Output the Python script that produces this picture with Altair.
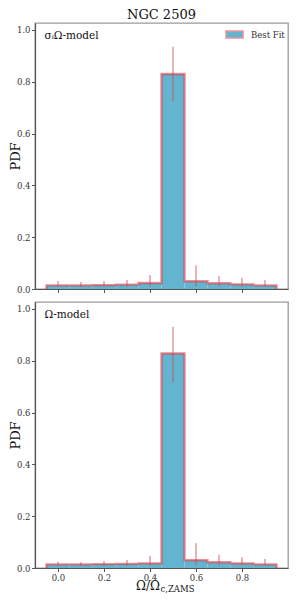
import altair as alt
import pandas as pd

# ---------------- data ----------------
bin_centers = [0.0, 0.1, 0.2, 0.3, 0.4, 0.5, 0.6, 0.7, 0.8, 0.9]
bin_width = 0.1

pdf_sigma = [0.014, 0.014, 0.015, 0.017, 0.023, 0.830, 0.030, 0.022, 0.018, 0.014]
err_lo_sigma = [0.009, 0.009, 0.009, 0.009, 0.009, 0.724, 0.010, 0.010, 0.010, 0.010]
err_hi_sigma = [0.031, 0.027, 0.030, 0.035, 0.054, 0.935, 0.091, 0.050, 0.043, 0.035]

pdf_omega = [0.014, 0.014, 0.015, 0.016, 0.018, 0.828, 0.030, 0.022, 0.018, 0.014]
err_lo_omega = [0.009, 0.009, 0.009, 0.009, 0.009, 0.718, 0.010, 0.010, 0.010, 0.010]
err_hi_omega = [0.024, 0.023, 0.027, 0.031, 0.047, 0.931, 0.096, 0.051, 0.041, 0.035]

x_ticks = [0.0, 0.2, 0.4, 0.6, 0.8]
y_ticks = [0.0, 0.2, 0.4, 0.6, 0.8, 1.0]
x_domain = [-0.1, 1.0]
y_domain = [0.0, 1.027]

title_text = "NGC 2509"
panel_labels = ["σᵢΩ-model", "Ω-model"]
legend_label = "Best Fit"
y_title = "PDF"
x_title_main = "Ω/Ω"
x_title_sub = "c,ZAMS"

# ---------------- style ----------------
FILL = "#63b4cf"
EDGE = "#e0303a"
ERR = "#c94f58"
SERIF = "DejaVu Serif"
W, H = 253, 266


def panel(pdf, lo, hi, label, first):
    bars = pd.DataFrame({
        "x0": [c - bin_width / 2 for c in bin_centers],
        "x1": [c + bin_width / 2 for c in bin_centers],
        "pdf": pdf,
        "base": [0.0] * len(pdf),
        "series": [legend_label] * len(pdf),
    })
    errs = pd.DataFrame({"x": bin_centers, "lo": lo, "hi": hi})
    sx, sy = [bin_centers[0] - bin_width / 2], [0.0]
    for c, p in zip(bin_centers, pdf):
        sx += [c - bin_width / 2, c + bin_width / 2]
        sy += [p, p]
    sx.append(bin_centers[-1] + bin_width / 2)
    sy.append(0.0)
    step = pd.DataFrame({"x": sx, "y": sy, "o": list(range(len(sx)))})

    xs = alt.Scale(domain=x_domain, nice=False, zero=False)
    ys = alt.Scale(domain=y_domain, nice=False)
    xaxis = alt.Axis(values=x_ticks, format=".1f", labels=not first, title=None)
    yaxis = alt.Axis(values=y_ticks, format=".1f", title=y_title,
                     titleX=-16, titleBaseline="alphabetic")

    if first:
        fill = alt.Fill("series:N", scale=alt.Scale(range=[FILL]),
                        legend=alt.Legend(orient="none", legendX=190, legendY=2,
                                          title=None,
                                          symbolType="M-1,-0.4H1V0.4H-1Z",
                                          symbolSize=289,
                                          symbolStrokeColor="#e8939a",
                                          symbolStrokeWidth=1.5,
                                          labelFont=SERIF, labelFontSize=8.5,
                                          labelColor="#333", labelOffset=7,
                                          padding=0))
    else:
        fill = alt.value(FILL)

    b = alt.Chart(bars).mark_bar(stroke=None, opacity=1).encode(
        x=alt.X("x0:Q", scale=xs, axis=xaxis),
        x2="x1:Q",
        y=alt.Y("pdf:Q", scale=ys, axis=yaxis),
        y2="base:Q",
        fill=fill,
    )
    s = alt.Chart(step).mark_line(color=EDGE, strokeWidth=2.4, opacity=0.55).encode(
        x="x:Q", y="y:Q", order="o:Q")
    e = alt.Chart(errs).mark_rule(color=ERR, strokeWidth=1, opacity=0.85).encode(
        x="x:Q", y="lo:Q", y2="hi:Q")
    t = alt.Chart(pd.DataFrame({"label": [label]})).mark_text(
        align="left", baseline="alphabetic", font=SERIF, fontSize=10.5, color="#111"
    ).encode(x=alt.value(9.5), y=alt.value(16), text="label:N")
    layers = [b, s, e, t]
    if not first:
        xt = pd.DataFrame({"main": [x_title_main], "sub": [x_title_sub]})
        layers.append(alt.Chart(xt).mark_text(
            align="right", baseline="alphabetic", font=SERIF, fontSize=12, color="#111"
        ).encode(x=alt.value(125), y=alt.value(288), text="main:N"))
        layers.append(alt.Chart(xt).mark_text(
            align="left", baseline="alphabetic", font=SERIF, fontSize=8.5, color="#111"
        ).encode(x=alt.value(125.5), y=alt.value(290), text="sub:N"))
    ch = alt.layer(*layers).properties(width=W, height=H)
    if first:
        ch = ch.properties(title=alt.TitleParams(title_text, font=SERIF, fontSize=13,
                                                 fontWeight="normal", anchor="middle",
                                                 frame="group", offset=1, color="#111"))
    return ch


top = panel(pdf_sigma, err_lo_sigma, err_hi_sigma, panel_labels[0], True)
bottom = panel(pdf_omega, err_lo_omega, err_hi_omega, panel_labels[1], False)

chart = alt.vconcat(top, bottom, spacing=6).resolve_scale(fill="independent").properties(
    padding={"left": 0, "top": 0, "right": 2, "bottom": 1}
).configure_view(stroke="#9a9a9a", strokeWidth=1.3).configure_axis(
    grid=False, domainColor="#555", domainWidth=1.2, tickColor="#555", tickSize=3.5,
    labelFont=SERIF, labelFontSize=8.5, labelColor="#333", labelPadding=1.5,
    titleFont=SERIF, titleFontSize=13, titleFontWeight="normal", titleColor="#111"
)

chart.save("out.html", embed_options={"renderer": "svg", "actions": False})
